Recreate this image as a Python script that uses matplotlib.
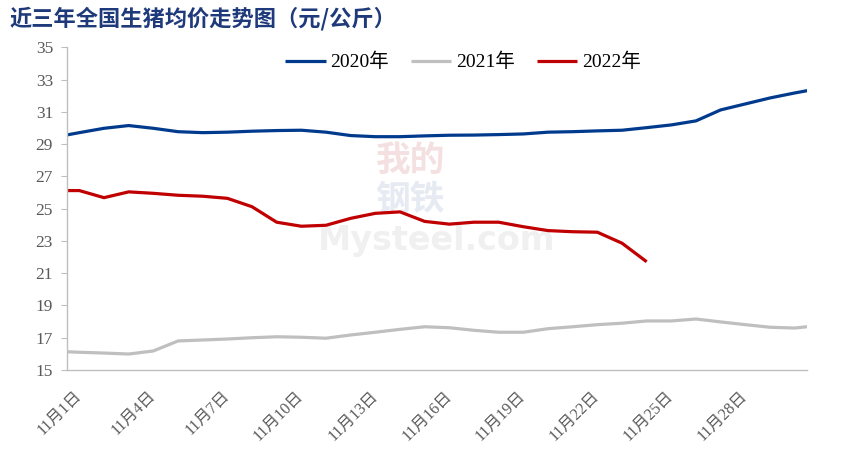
import matplotlib.pyplot as plt
import numpy as np

# daily series, 10/31 .. 12/1 (the first and last points are clipped by the axis limits)
dates = ['10月31日'] + ['11月%d日' % d for d in range(1, 31)] + ['12月1日']
y2020 = [29.43, 29.71, 29.98, 30.15, 29.98, 29.77, 29.71, 29.74, 29.80, 29.84, 29.86,
         29.74, 29.53, 29.46, 29.46, 29.51, 29.55, 29.56, 29.59, 29.63, 29.74, 29.77,
         29.82, 29.86, 30.02, 30.19, 30.44, 31.12, 31.49, 31.86, 32.17, 32.45]
y2021 = [16.16, 16.10, 16.05, 15.99, 16.18, 16.80, 16.86, 16.92, 17.00, 17.06, 17.03,
         16.97, 17.17, 17.34, 17.52, 17.68, 17.62, 17.46, 17.34, 17.34, 17.56, 17.68,
         17.81, 17.90, 18.04, 18.04, 18.16, 17.98, 17.81, 17.65, 17.60, 17.76]
y2022 = [26.12, 26.12, 25.68, 26.04, 25.95, 25.83, 25.77, 25.64, 25.12, 24.16, 23.91,
         23.97, 24.40, 24.71, 24.80, 24.21, 24.04, 24.16, 24.16, 23.88, 23.64, 23.57,
         23.54, 22.86, 21.71]
series_names = ['2020年', '2021年', '2022年']
colors = ['#003A8C', '#BFBFBF', '#C00000']
yticks = list(range(15, 36, 2))

fonts = ['Liberation Serif', 'Noto Sans CJK SC']
plt.rcParams['font.family'] = fonts

fig = plt.figure(figsize=(8.56, 4.61), dpi=100)
ax = fig.add_axes([67 / 856, 91 / 461, 740 / 856, 322.7 / 461])

x = np.arange(len(dates)) - 1
for vals, name, c in zip([y2020, y2021, y2022], series_names, colors):
    ax.plot(x[:len(vals)], vals, color=c, lw=2.3, label=name,
            solid_joinstyle='round', solid_capstyle='butt')

ax.set_xlim(-0.5, 29.5)
ax.set_ylim(15, 35)
ax.set_yticks(yticks)
ax.set_yticklabels([str(v) for v in yticks], fontsize=12.5, color='#595959')
ax.tick_params(axis='y', length=4, width=0.8, color='#BFBFBF', pad=6)

tick_idx = list(range(0, 30, 3))
ax.set_xticks(tick_idx)
ax.set_xticklabels([dates[i + 1] for i in tick_idx], rotation=45, ha='right',
                   va='center', rotation_mode='anchor', fontsize=11.5, color='#595959')
ax.tick_params(axis='x', length=0, pad=17)

for s in ['top', 'right']:
    ax.spines[s].set_visible(False)
for s in ['left', 'bottom']:
    ax.spines[s].set_color('#BFBFBF')
    ax.spines[s].set_linewidth(1)

leg = ax.legend(loc='center', bbox_to_anchor=(0.535, 0.954), ncol=3, frameon=False,
                fontsize=14, handlelength=2.1, handletextpad=0.25, columnspacing=1.1)

# faint watermark
ax.text(0.464, 0.65, '我的', transform=ax.transAxes, fontsize=25, color='#F4E0E0',
        family='Noto Sans CJK SC', fontweight='bold', ha='center', va='center', zorder=0)
ax.text(0.464, 0.53, '钢铁', transform=ax.transAxes, fontsize=25, color='#E6EAF2',
        family='Noto Sans CJK SC', fontweight='bold', ha='center', va='center', zorder=0)
ax.text(0.5, 0.40, 'Mysteel.com', transform=ax.transAxes, fontsize=24, color='#F0F0F0',
        family='DejaVu Sans', fontweight='bold', ha='center', va='center', zorder=0)

fig.text(10 / 856, 1 - 19 / 461, '近三年全国生猪均价走势图（元/公斤）', fontsize=16,
         fontweight='bold', color='#1F3A7A', family=['Noto Sans CJK SC'], va='center', ha='left')

fig.savefig('out.png', dpi=100)
